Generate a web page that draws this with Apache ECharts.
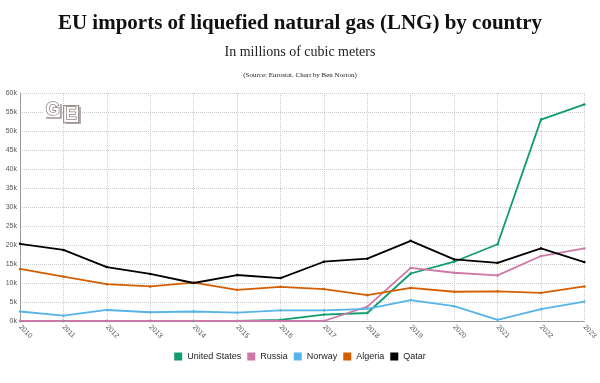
<!DOCTYPE html>
<html><head><meta charset="utf-8">
<script src="https://cdn.jsdelivr.net/npm/echarts@6/dist/echarts.min.js"></script>
<style>html,body{margin:0;padding:0;background:#fff}#c{width:600px;height:383px}</style>
</head><body><div id="c"></div>
<script>
const years = ['2010','2011','2012','2013','2014','2015','2016','2017','2018','2019','2020','2021','2022','2023'];
const unitedStates = [0,0,0,0,0,0,300,1700,2100,12500,15600,20200,53000,57000];
const russia = [0,0,0,0,0,0,0,0,3800,14000,12700,12000,17100,19100];
const norway = [2500,1400,2900,2300,2500,2200,2800,2800,3200,5500,3900,300,3100,5100];
const algeria = [13700,11700,9700,9100,10100,8200,9000,8400,6800,8700,7700,7800,7400,9100];
const qatar = [20300,18700,14200,12400,10000,12100,11300,15600,16400,21100,16200,15300,19100,15500];
const seriesNames = ['United States','Russia','Norway','Algeria','Qatar'];
const seriesColors = ['#109c6e','#cc79a7','#56b4e9','#d55e00','#000000'];
const seriesData = [unitedStates, russia, norway, algeria, qatar];

const chart = echarts.init(document.getElementById('c'));
chart.setOption({
  animation:false,
  backgroundColor:'#fff',
  title:[
    {text:'EU imports of liquefied natural gas (LNG) by country', left:'center', top:8,
     textStyle:{fontFamily:'Liberation Serif', fontWeight:'bold', fontSize:21, color:'#111'}},
    {text:'In millions of cubic meters', left:'center', top:40,
     textStyle:{fontFamily:'Liberation Serif', fontWeight:'normal', fontSize:14, color:'#222'}},
    {text:'(Source: Eurostat. Chart by Ben Norton)', left:'center', top:67,
     textStyle:{fontFamily:'Liberation Serif', fontWeight:'normal', fontSize:7, color:'#222'}}
  ],
  legend:{bottom:17, left:'center', icon:'rect', itemWidth:8, itemHeight:8, itemGap:6,
    textStyle:{fontFamily:'Liberation Sans', fontSize:9, color:'#222'}},
  grid:{left:20, right:15, top:93, bottom:62, containLabel:false},
  xAxis:{type:'category', data:years, boundaryGap:false,
    axisLine:{lineStyle:{color:'#999'}},
    axisTick:{show:false},
    axisLabel:{rotate:-45, fontSize:7, color:'#555', fontFamily:'Liberation Sans', margin:5},
    splitLine:{show:true, lineStyle:{type:'dotted', color:'#ccc'}}},
  yAxis:{type:'value', min:0, max:60000, interval:5000,
    axisLine:{show:true, lineStyle:{color:'#999'}},
    axisTick:{show:false},
    axisLabel:{fontSize:7, color:'#555', fontFamily:'Liberation Sans', margin:3,
      formatter:v=>(v/1000)+'k'},
    splitLine:{lineStyle:{type:'dotted', color:'#ccc'}}},
  graphic:[
    {type:'rect', left:46, top:104, z:10, shape:{width:16, height:15, r:1}, style:{fill:'#b8aaaa'}},
    {type:'rect', left:44, top:102, z:11, shape:{width:16, height:15, r:1}, style:{fill:'#fff'}},
    {type:'text', left:45, top:100, z:12, style:{text:'G', font:'bold 18px Liberation Sans', fill:'#fff', stroke:'#8c7f7f', lineWidth:1.5}},
    {type:'rect', left:66, top:107, z:10, shape:{width:15, height:17}, style:{fill:'#b8aaaa'}},
    {type:'rect', left:63, top:105, z:11, shape:{width:15, height:17}, style:{fill:'#fff', stroke:'#9d9090', lineWidth:1.2}},
    {type:'text', left:65, top:106, z:12, style:{text:'E', font:'bold 16px Liberation Sans', fill:'#fff', stroke:'#8c7f7f', lineWidth:1.5}}
  ],
  series: seriesNames.map((n,i)=>({
    name:n, type:'line', data:seriesData[i], color:seriesColors[i],
    symbol:'circle', symbolSize:2.5, showSymbol:true,
    lineStyle:{width:1.8, color:seriesColors[i]},
    itemStyle:{color:seriesColors[i]}
  }))
});
</script></body></html>
